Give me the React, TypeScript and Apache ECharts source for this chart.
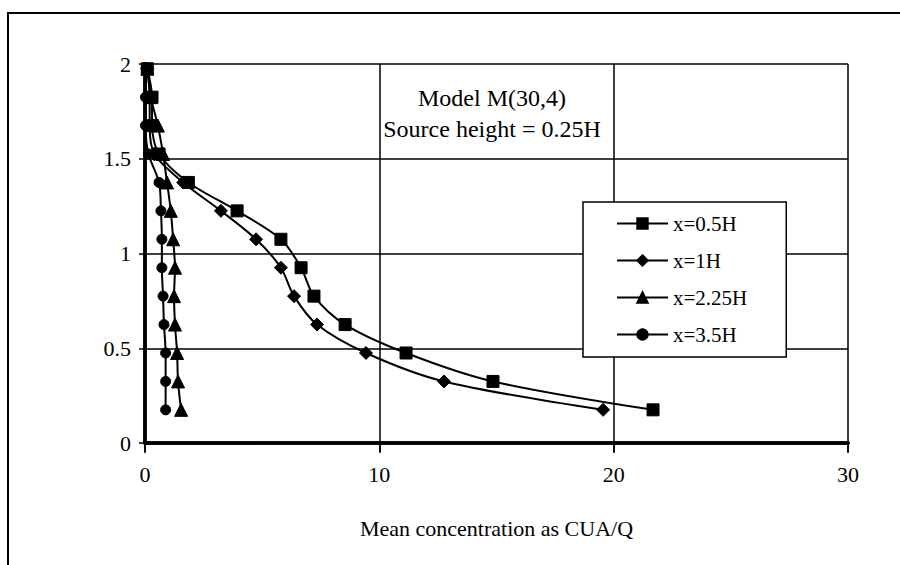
import React, { useEffect, useRef } from "react";
import * as echarts from "echarts";

const heights = [1.975, 1.825, 1.675, 1.525, 1.375, 1.225, 1.075, 0.925, 0.775, 0.625, 0.475, 0.325, 0.175];
const seriesNames = ["x=0.5H", "x=1H", "x=2.25H", "x=3.5H"];
const conc05H = [0.1, 0.3, 0.3, 0.6, 1.85, 3.93, 5.8, 6.66, 7.21, 8.54, 11.14, 14.85, 21.68];
const conc1H = [0.1, 0.2, 0.2, 0.4, 1.63, 3.24, 4.74, 5.8, 6.36, 7.34, 9.43, 12.76, 19.55];
const conc225H = [0.1, 0.25, 0.55, 0.77, 0.94, 1.1, 1.2, 1.28, 1.24, 1.28, 1.37, 1.41, 1.54];
const conc35H = [0.05, 0.02, 0.02, 0.15, 0.6, 0.68, 0.72, 0.72, 0.77, 0.81, 0.88, 0.88, 0.88];
const symbols = ["rect", "diamond", "triangle", "circle"];
const symbolSizes = [12, 13, 13, 10];
const titleLines = ["Model M(30,4)", "Source height = 0.25H"];
const xAxisTitle = "Mean concentration as CUA/Q";

const FONT = "Liberation Serif";

export default function App() {
  const ref = useRef<HTMLDivElement>(null);
  useEffect(() => {
    if (!ref.current) return;
    const chart = echarts.init(ref.current, undefined, { renderer: "svg" });
    const all = [conc05H, conc1H, conc225H, conc35H];
    chart.setOption({
      animation: false,
      backgroundColor: "#ffffff",
      grid: { left: 145, right: 52, top: 64, bottom: 122, show: false },
      legend: {
        orient: "vertical",
        left: 583,
        top: 202,
        data: seriesNames,
        backgroundColor: "#ffffff",
        borderColor: "#000000",
        borderWidth: 1.5,
        borderRadius: 0,
        padding: [11, 39, 12, 33],
        itemGap: 16,
        itemWidth: 51,
        itemHeight: 13,
        textStyle: { fontFamily: FONT, fontSize: 21, color: "#000" },
      },
      xAxis: [
        {
          type: "value",
          min: 0,
          max: 30,
          interval: 10,
          position: "bottom",
          name: xAxisTitle,
          nameLocation: "middle",
          nameGap: 74,
          nameTextStyle: { fontFamily: FONT, fontSize: 22, color: "#000" },
          axisLine: { show: true, onZero: false, lineStyle: { color: "#000", width: 3.5 } },
          axisTick: { show: true, inside: false, length: 9, lineStyle: { color: "#000", width: 1.5 } },
          axisLabel: { fontFamily: FONT, fontSize: 22, color: "#000", margin: 20 },
          splitLine: { show: true, lineStyle: { color: "#000", width: 1.5 } },
        },
        {
          type: "value",
          min: 0,
          max: 30,
          interval: 10,
          position: "top",
          axisLine: { show: true, lineStyle: { color: "#000", width: 3.5 } },
          axisTick: { show: true, inside: true, length: 10, lineStyle: { color: "#000", width: 1.5 } },
          axisLabel: { show: false },
          splitLine: { show: false },
        },
      ],
      yAxis: [
        {
          type: "value",
          min: 0,
          max: 2,
          interval: 0.5,
          position: "left",
          axisLine: { show: true, onZero: false, lineStyle: { color: "#000", width: 3.5 } },
          axisTick: { show: true, inside: false, length: 6, lineStyle: { color: "#000", width: 1.5 } },
          axisLabel: { fontFamily: FONT, fontSize: 22, color: "#000", margin: 14 },
          splitLine: { show: true, lineStyle: { color: "#000", width: 1.5 } },
        },
        {
          type: "value",
          min: 0,
          max: 2,
          interval: 0.5,
          position: "right",
          axisLine: { show: true, lineStyle: { color: "#000", width: 3.5 } },
          axisTick: { show: false },
          axisLabel: { show: false },
          splitLine: { show: false },
        },
      ],
      graphic: [
        {
          type: "rect",
          shape: { x: 8, y: 13, width: 1000, height: 700 },
          style: { fill: "none", stroke: "#000", lineWidth: 2 },
          silent: true,
          z: -10,
        },
        {
          type: "text",
          x: 492,
          y: 98,
          style: {
            text: titleLines[0],
            fontFamily: FONT,
            fontSize: 24,
            fill: "#000",
            align: "center",
            verticalAlign: "middle",
          },
          z: 100,
        },
        {
          type: "text",
          x: 492,
          y: 129,
          style: {
            text: titleLines[1],
            fontFamily: FONT,
            fontSize: 24,
            fill: "#000",
            align: "center",
            verticalAlign: "middle",
          },
          z: 100,
        },
      ],
      series: all.map((vals, i) => ({
        name: seriesNames[i],
        type: "line",
        xAxisIndex: 0,
        yAxisIndex: 0,
        data: vals.map((v, j) => [v, heights[j]]),
        smooth: 0.3,
        symbol: symbols[i],
        symbolSize: symbolSizes[i],
        showAllSymbol: true,
        clip: false,
        lineStyle: { color: "#000", width: 2 },
        itemStyle: { color: "#000", borderColor: "#000", borderWidth: 1 },
        z: 10,
      })),
    });
    return () => chart.dispose();
  }, []);
  return (
    <div
      ref={ref}
      style={{ position: "fixed", left: 0, top: 0, width: 900, height: 565 }}
    />
  );
}
